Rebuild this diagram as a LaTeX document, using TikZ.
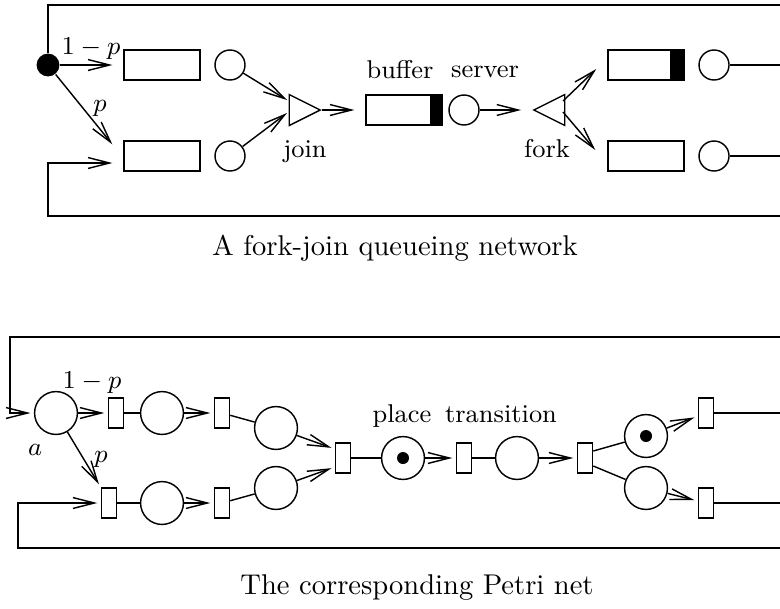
\documentclass[tikz,border=0pt]{standalone}
\usetikzlibrary{%
	positioning,
	calc,
	arrows.meta,
	shapes.geometric
}

\begin{document}
\begin{tikzpicture}[
		x=0.35pt,y=-0.35pt,line width=0.5pt,
		>={Straight Barb[length=7.5pt,width=3.8pt]},
		SQueue/.style={draw,shape=rectangle,minimum width=26.6pt,minimum height=10.5pt,inner sep=0pt},
		SServer/.style={draw,shape=circle,minimum size=10.5pt,inner sep=0pt},
		SSplit/.style={fill=black,shape=circle,minimum size=8pt,inner sep=0pt},
		STri/.style={draw,isosceles triangle,isosceles triangle stretches,minimum width=10.8pt,minimum height=10.8pt,inner sep=0pt,anchor=apex},
		SPlace/.style={draw,shape=circle,minimum size=15pt,inner sep=0pt},
		STrans/.style={draw,shape=rectangle,minimum width=5.3pt,minimum height=10.5pt,inner sep=0pt},
		title/.style={font=\small,inner sep=0pt,anchor=base},
		caption/.style={font=\normalsize,inner sep=0pt,anchor=base},
		qarrow/.style={->,shorten >=3.8pt},
		parrow/.style={->,shorten >=1.2pt}
	]
	\useasboundingbox (0,0) rectangle (780,608);

		%queueing network
		\node(src) [SSplit] at (48,65) {};
		\node(q-u1) [SQueue] at (162,65) {};
		\node(s-u1) [SServer] at (230,65) {};
		\node(q-l1) [SQueue] at (162,156) {};
		\node(s-l1) [SServer] at (230,156) {};
		\node(join) [STri] at (322,110) {};
		\node(buf) [SQueue] at (404,110) {};
		\node(srv) [SServer] at (464,110) {};
		\node(fork) [STri, shape border rotate=180] at (532,110) {};
		\node(q-u2) [SQueue] at (646,65) {};
		\node(s-u2) [SServer] at (714,65) {};
		\node(q-l2) [SQueue] at (646,156) {};
		\node(s-l2) [SServer] at (714,156) {};
		\fill ($(buf.north east)+(-13,0)$) rectangle ($(buf.south east)+(-2,0)$);
		\fill ($(q-u2.north east)+(-15,0)$) rectangle ($(q-u2.south east)+(-2,0)$);

		\coordinate (fb-top) at (48,5);
		\coordinate (e-top) at (780,5);
		\coordinate (fb-bot) at (48,216);
		\coordinate (e-bot) at (780,216);
		\coordinate (e-u2) at (780,65);
		\coordinate (e-l2) at (780,156);
		\coordinate (join-in1) at ($(join.apex)+(-35,-10)$);
		\coordinate (join-in2) at ($(join.apex)+(-35,3)$);
		\coordinate (fork-out1) at ($(fork.apex)+(31,-9)$);
		\coordinate (fork-out2) at ($(fork.apex)+(31,2)$);

		\draw [qarrow] (src) -- (q-u1);
		\draw [->] (src) -- ($(q-l1.north west)+(-11,4)$);
		\draw (src) -- (fb-top) -- (e-top);
		\draw [qarrow] (e-bot) -- (fb-bot) |- ($(q-l1.west)+(0,7)$);
		\draw [->] (s-u1) -- (join-in1);
		\draw [->] (s-l1) -- (join-in2);
		\draw [qarrow] (join.apex) -- (buf);
		\draw [qarrow] (srv) -- (fork.apex);
		\draw [->] (fork-out1) -- ($(q-u2.west)+(-11,4)$);
		\draw [->] (fork-out2) -- ($(q-l2.west)+(-12,-6)$);
		\draw (s-u2) -- (e-u2);
		\draw (s-l2) -- (e-l2);

		\node(lbl-1p-q) [title] at (91,54) {$1-p$};
		\node(lbl-p) [title] at (100,111) {$p$};
		\node(lbl-join) [title] at (305,157) {join};
		\node(lbl-buf) [title] at (400,78) {buffer};
		\node(lbl-srv) [title] at (485,77) {server};
		\node(lbl-fork) [title] at (547,157) {fork};
		\node(cap-q) [caption] at (395,255) {A fork-join queueing network};

		%Petri net
		\node(a) [SPlace] at (56,413) {};
		\node(t-u1) [STrans] at (116,413) {};
		\node(p-u1) [SPlace] at (162,413) {};
		\node(t-u2) [STrans] at (222,413) {};
		\node(p-u2) [SPlace] at (276,428) {};
		\node(t-l1) [STrans] at (109,503) {};
		\node(p-l1) [SPlace] at (162,503) {};
		\node(t-l2) [STrans] at (222,503) {};
		\node(p-l2) [SPlace] at (276,488) {};
		\node(t-join) [STrans] at (343,458) {};
		\node(p-buf) [SPlace] at (403,458) {};
		\node(t-srv) [STrans] at (464,458) {};
		\node(p-srv) [SPlace] at (517,458) {};
		\node(t-fork) [STrans] at (585,458) {};
		\node(p-u3) [SPlace] at (646,436) {};
		\node(p-l3) [SPlace] at (646,488) {};
		\node(t-u3) [STrans] at (706,413) {};
		\node(t-l3) [STrans] at (706,503) {};
		\fill (p-buf) circle [radius=2.1pt];
		\fill (p-u3) circle [radius=2.1pt];

		\coordinate (pfb-top) at (10,337);
		\coordinate (pe-top) at (780,337);
		\coordinate (pfb-bot) at (18,548);
		\coordinate (pe-bot) at (780,548);
		\coordinate (pe-u3) at (780,413);
		\coordinate (pe-l3) at (780,503);

		\draw [parrow] (pe-top) -- (pfb-top) |- (a);
		\draw [parrow] (pe-bot) -- (pfb-bot) |- (t-l1);
		\draw [parrow] (a) -- (t-u1);
		\draw [parrow] (a) -- (t-l1.north west);
		\draw (t-u1) -- (p-u1);
		\draw [parrow] (p-u1) -- (t-u2);
		\draw (t-u2) -- (p-u2);
		\draw (t-l1) -- (p-l1);
		\draw [parrow] (p-l1) -- (t-l2);
		\draw (t-l2) -- (p-l2);
		\draw [parrow] (p-u2) -- ($(t-join.west)+(0,-9)$);
		\draw [parrow] (p-l2) -- ($(t-join.west)+(0,9)$);
		\draw (t-join) -- (p-buf);
		\draw [parrow] (p-buf) -- (t-srv);
		\draw (t-srv) -- (p-srv);
		\draw [parrow] (p-srv) -- (t-fork);
		\draw ($(t-fork.east)+(0,-7)$) -- (p-u3);
		\draw ($(t-fork.east)+(0,8)$) -- (p-l3);
		\draw [parrow] (p-u3) -- (t-u3);
		\draw [parrow] (p-l3) -- (t-l3);
		\draw (t-u3) -- (pe-u3);
		\draw (t-l3) -- (pe-l3);

		\node(lbl-1p) [title] at (92,388) {$1-p$};
		\node(lbl-a) [title] at (35,455) {$a$};
		\node(lbl-pp) [title] at (101,462) {$p$};
		\node(lbl-place) [title] at (402,422) {place};
		\node(lbl-trans) [title] at (501,422) {transition};
		\node(cap-p) [caption] at (417,594) {The corresponding Petri net};

	\end{tikzpicture}
\end{document}
